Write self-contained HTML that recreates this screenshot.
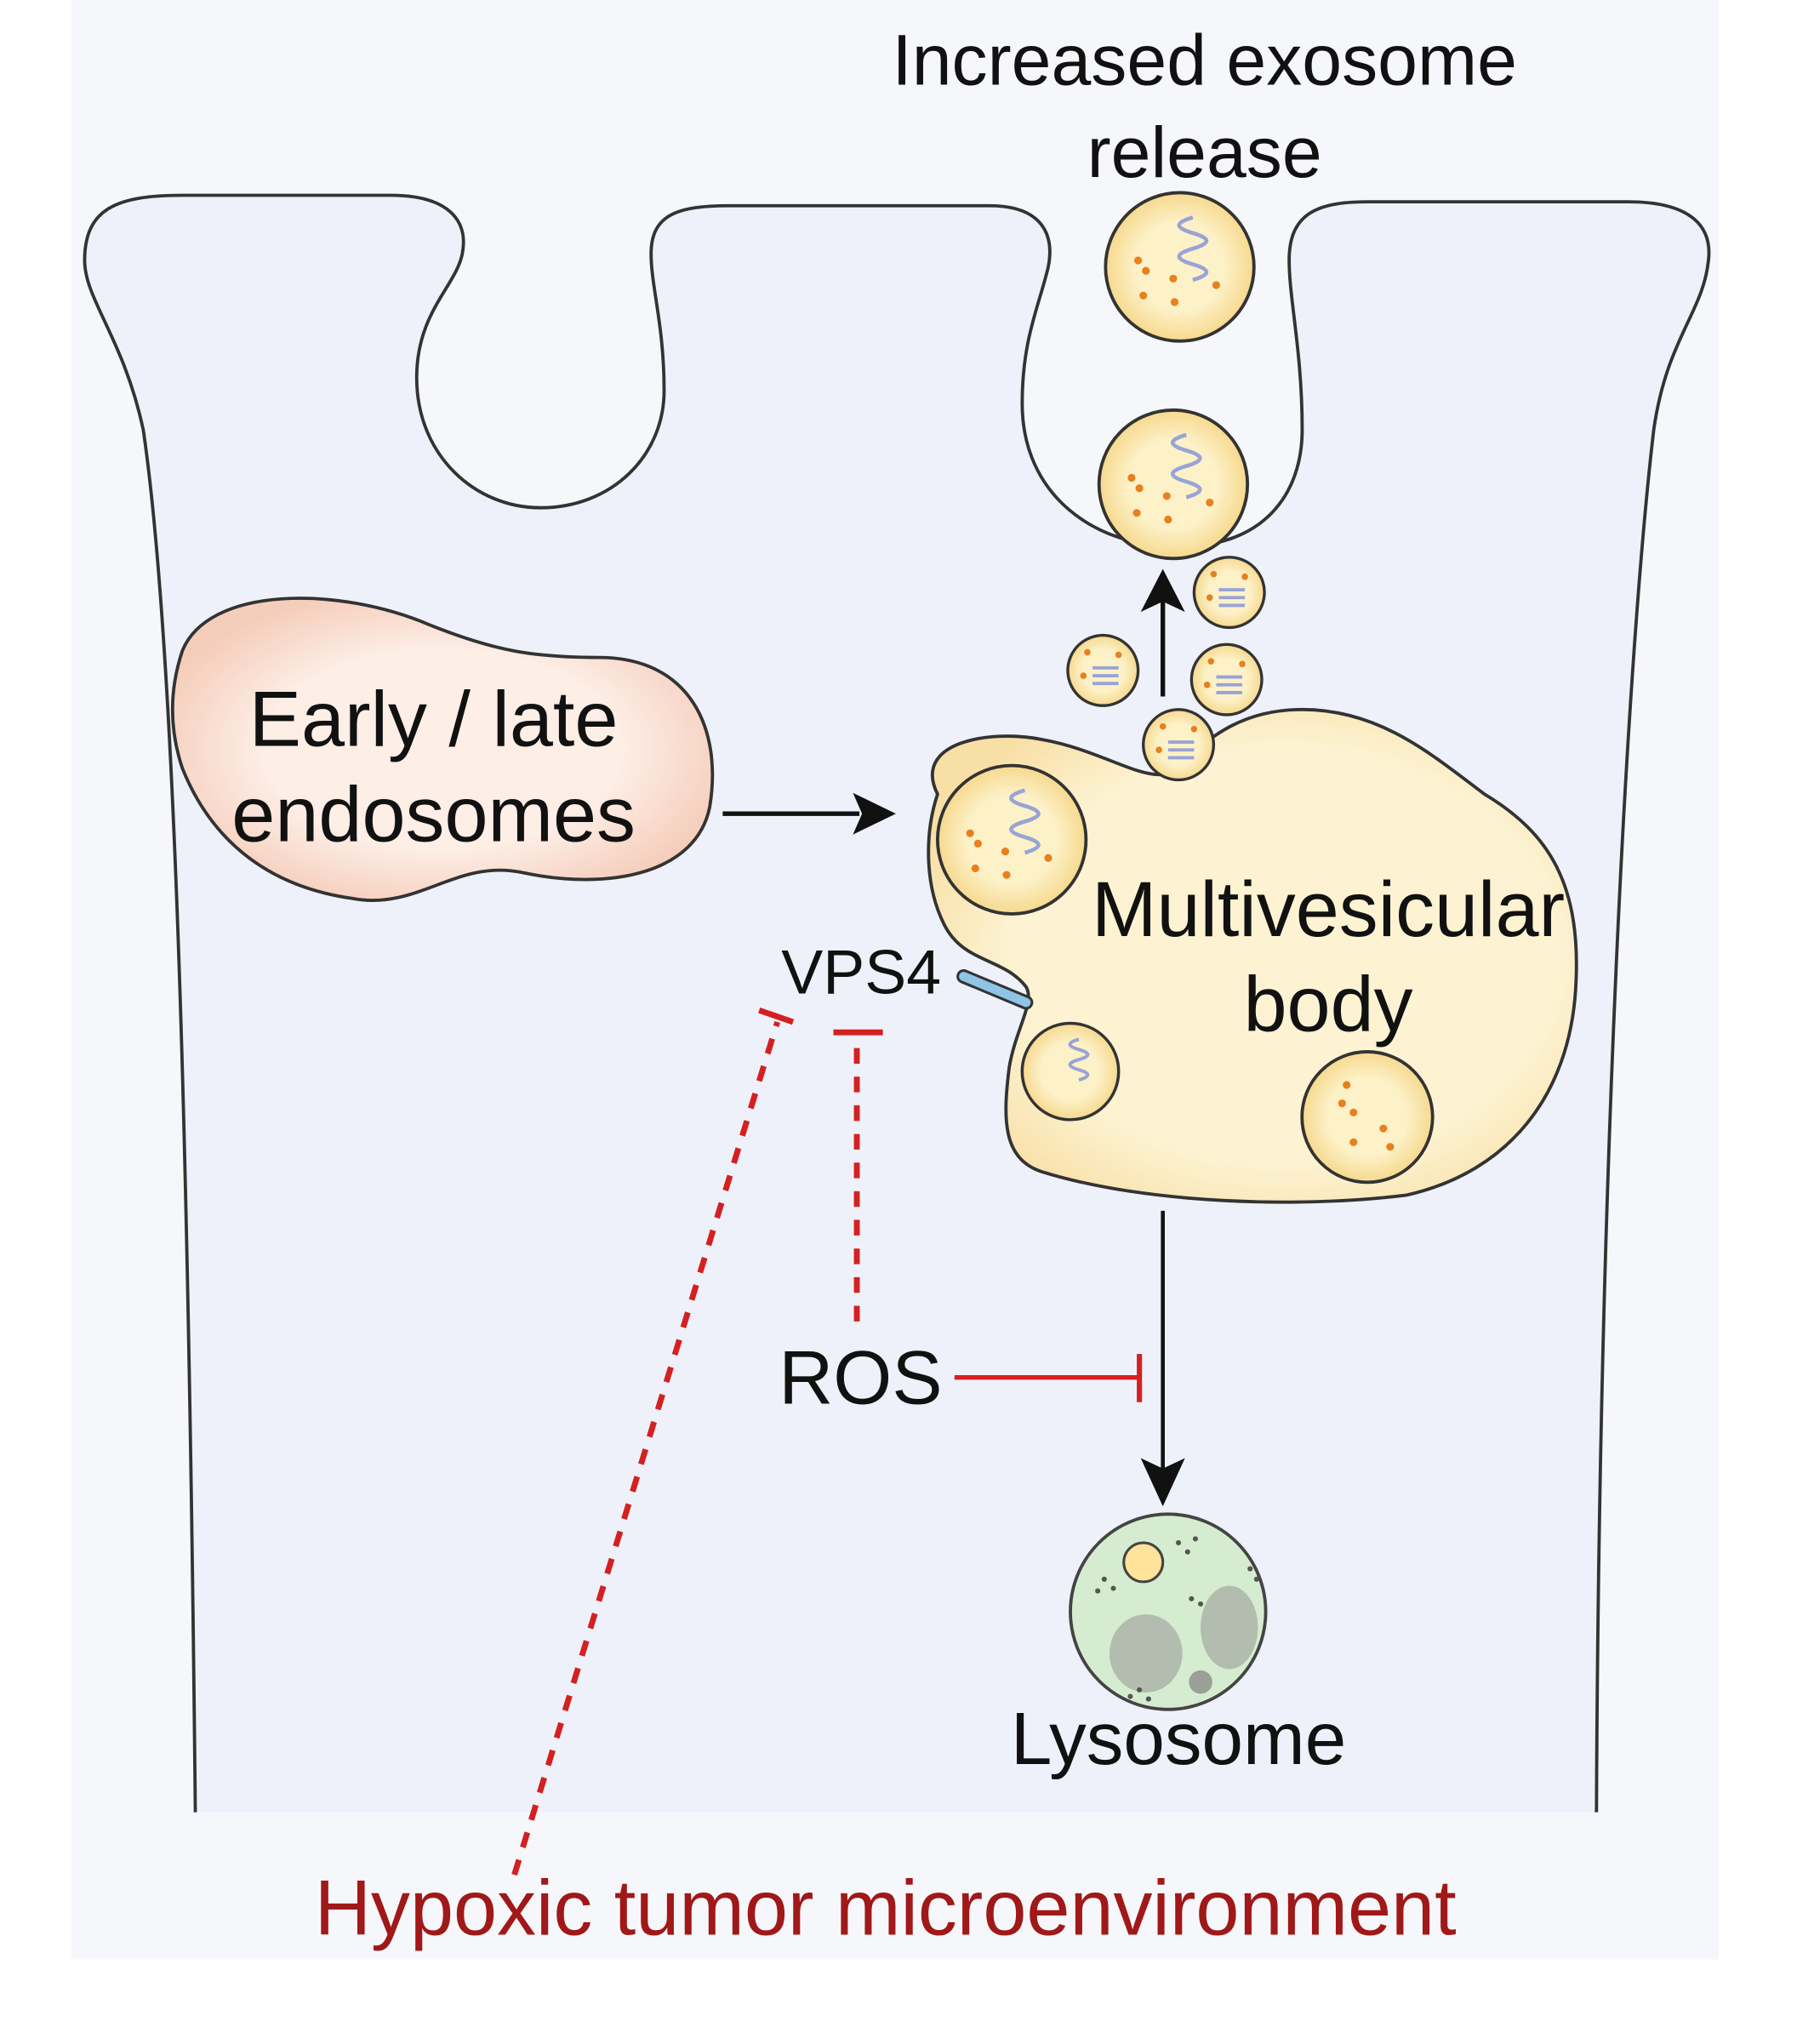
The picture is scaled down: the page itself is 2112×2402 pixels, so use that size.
<!DOCTYPE html>
<html><head><meta charset="utf-8"><style>
html,body{margin:0;padding:0;background:#fff;}
svg{display:block;}
text{font-family:"Liberation Sans",sans-serif;}
</style></head><body>
<svg width="2112" height="2402" viewBox="0 0 1380 1570" preserveAspectRatio="none" xmlns="http://www.w3.org/2000/svg">
<defs>
<radialGradient id="ves" cx="50%" cy="50%" r="50%"><stop offset="0.6" stop-color="#fdf1c8"/><stop offset="1" stop-color="#f6d98e"/></radialGradient>
<radialGradient id="mvb" cx="55%" cy="50%" r="60%"><stop offset="0.7" stop-color="#fdf3d2"/><stop offset="1" stop-color="#f8dfa6"/></radialGradient>
<radialGradient id="endo" cx="50%" cy="50%" r="55%"><stop offset="0.6" stop-color="#fdeee6"/><stop offset="1" stop-color="#f5cdbb"/></radialGradient>
<g id="vbig">
<circle r="57" fill="url(#ves)" stroke="#333" stroke-width="2.5"/>
<path d="M10,-38 c-14,4 -14,8 0,12 c14,4 14,8 0,12 c-14,4 -14,8 0,12 c14,4 14,8 0,12" fill="none" stroke="#98a4d6" stroke-width="3"/>
<g fill="#e8801e"><circle cx="-32" cy="-5" r="3"/><circle cx="-26" cy="3" r="3"/><circle cx="-5" cy="9" r="3"/><circle cx="-28" cy="22" r="3"/><circle cx="-4" cy="27" r="3"/><circle cx="28" cy="14" r="3"/></g>
</g>
<g id="vsm">
<circle r="27" fill="url(#ves)" stroke="#333" stroke-width="2.2"/>
<g stroke="#98a4d6" stroke-width="2.5"><line x1="-8" y1="-2" x2="12" y2="-2"/><line x1="-8" y1="4" x2="12" y2="4"/><line x1="-8" y1="10" x2="12" y2="10"/></g>
<g fill="#e8801e"><circle cx="-12" cy="-14" r="2.5"/><circle cx="12" cy="-12" r="2.5"/><circle cx="-15" cy="4" r="2.5"/></g>
</g>
</defs>
<rect x="55" y="0" width="1265" height="1505" fill="#f6f7fb"/>
<path d="M150,1392 C145,900 135,500 110,330 C95,260 65,230 65,200 C65,160 90,150 140,150 L300,150 C345,150 360,170 355,195 C350,220 320,240 320,290 C320,350 365,390 415,390 C470,390 510,350 510,300 C510,250 500,220 500,195 C500,165 520,158 560,158 L760,158 C800,158 810,180 805,205 C798,235 785,260 785,310 C785,380 840,420 905,420 C970,420 1000,380 1000,330 C1000,270 990,230 990,200 C990,165 1010,155 1050,155 L1250,155 C1300,155 1315,175 1312,200 C1308,240 1280,260 1270,330 C1250,500 1228,900 1226,1392 Z" fill="#eef1f9" stroke="none"/>
<path d="M150,1392 C145,900 135,500 110,330 C95,260 65,230 65,200 C65,160 90,150 140,150 L300,150 C345,150 360,170 355,195 C350,220 320,240 320,290 C320,350 365,390 415,390 C470,390 510,350 510,300 C510,250 500,220 500,195 C500,165 520,158 560,158 L760,158 C800,158 810,180 805,205 C798,235 785,260 785,310 C785,380 840,420 905,420 C970,420 1000,380 1000,330 C1000,270 990,230 990,200 C990,165 1010,155 1050,155 L1250,155 C1300,155 1315,175 1312,200 C1308,240 1280,260 1270,330 C1250,500 1228,900 1226,1392" fill="none" stroke="#333" stroke-width="2.5"/>

<text x="925" y="65" font-size="55" text-anchor="middle" fill="#111">Increased exosome</text>
<text x="925" y="136" font-size="55" text-anchor="middle" fill="#111">release</text>

<use href="#vbig" x="906" y="205"/>
<use href="#vbig" x="901" y="372"/>

<path d="M140,500 C160,450 260,450 330,480 C380,500 410,505 460,505 C530,505 555,560 545,620 C535,670 470,685 400,670 C350,660 320,700 270,690 C200,680 160,640 140,590 C130,560 130,530 140,500 Z" fill="url(#endo)" stroke="#333" stroke-width="2.5"/>
<text x="333" y="573" font-size="60" text-anchor="middle" fill="#111">Early / late</text>
<text x="333" y="646" font-size="60" text-anchor="middle" fill="#111">endosomes</text>
<line x1="555" y1="625" x2="660" y2="625" stroke="#111" stroke-width="3.5"/>
<path d="M688,625 L655,609 L662,625 L655,641 Z" fill="#111"/>

<path d="M720,610 C700,570 760,560 800,568 C840,575 870,595 890,595 C910,595 930,545 1000,545 C1060,545 1100,580 1140,610 C1190,640 1215,680 1210,760 C1205,840 1160,900 1080,918 C1000,928 880,925 800,900 C770,890 770,860 775,820 C780,790 795,770 788,758 C770,735 740,740 725,710 C710,680 710,640 720,610 Z" fill="url(#mvb)" stroke="#333" stroke-width="2.5"/>
<use href="#vbig" x="777" y="645"/>
<g transform="translate(822,823) scale(0.65)"><circle r="57" fill="url(#ves)" stroke="#333" stroke-width="3.5"/><path d="M10,-38 c-14,4 -14,8 0,12 c14,4 14,8 0,12 c-14,4 -14,8 0,12 c14,4 14,8 0,12" fill="none" stroke="#98a4d6" stroke-width="4"/></g>
<g transform="translate(1050,858) scale(0.88)"><circle r="57" fill="url(#ves)" stroke="#333" stroke-width="2.8"/><g fill="#e8801e"><circle cx="-18" cy="-28" r="3.4"/><circle cx="-22" cy="-12" r="3.4"/><circle cx="-12" cy="-4" r="3.4"/><circle cx="14" cy="10" r="3.4"/><circle cx="-12" cy="22" r="3.4"/><circle cx="20" cy="26" r="3.4"/></g></g>
<text x="1020" y="719" font-size="60" text-anchor="middle" fill="#111">Multivesicular</text>
<text x="1020" y="792" font-size="60" text-anchor="middle" fill="#111">body</text>

<use href="#vsm" x="905" y="572"/>
<use href="#vsm" x="847" y="515"/>
<use href="#vsm" x="942" y="522"/>
<use href="#vsm" x="944" y="455"/>
<line x1="893" y1="535" x2="893" y2="460" stroke="#111" stroke-width="3.5"/>
<path d="M893,437 L876,470 L893,462 L910,470 Z" fill="#111"/>

<text x="600" y="763" font-size="48" fill="#111">VPS4</text>
<line x1="740" y1="750" x2="788" y2="770" stroke="#333" stroke-width="11" stroke-linecap="round"/>
<line x1="740" y1="750" x2="788" y2="770" stroke="#8ec5e6" stroke-width="7" stroke-linecap="round"/>

<line x1="395" y1="1440" x2="597" y2="785" stroke="#d42020" stroke-width="4.5" stroke-dasharray="12,10"/>
<line x1="583" y1="776" x2="609" y2="785" stroke="#d42020" stroke-width="4.5"/>
<line x1="658" y1="1015" x2="658" y2="795" stroke="#d42020" stroke-width="4.5" stroke-dasharray="12,10"/>
<line x1="640" y1="793" x2="678" y2="793" stroke="#d42020" stroke-width="4.5"/>

<text x="598" y="1078" font-size="58" fill="#111">ROS</text>
<line x1="733" y1="1058" x2="875" y2="1058" stroke="#d42020" stroke-width="3.5"/>
<line x1="875" y1="1040" x2="875" y2="1077" stroke="#d42020" stroke-width="4"/>

<line x1="893" y1="930" x2="893" y2="1130" stroke="#111" stroke-width="3"/>
<path d="M893,1157 L876,1120 L893,1128 L910,1120 Z" fill="#111"/>

<circle cx="897" cy="1238" r="75" fill="#d6ecd0" stroke="#444" stroke-width="2.5"/>
<circle cx="878" cy="1200" r="15" fill="#fde49a" stroke="#444" stroke-width="2"/>
<ellipse cx="880" cy="1270" rx="28" ry="30" fill="#a9b0a6" opacity="0.8"/>
<ellipse cx="944" cy="1250" rx="22" ry="32" fill="#a9b0a6" opacity="0.8"/>
<circle cx="922" cy="1292" r="9" fill="#9aa097"/>
<g fill="#555"><circle cx="848" cy="1213" r="2"/><circle cx="855" cy="1220" r="2"/><circle cx="843" cy="1222" r="2"/><circle cx="905" cy="1185" r="2"/><circle cx="912" cy="1192" r="2"/><circle cx="918" cy="1182" r="2"/><circle cx="960" cy="1205" r="2"/><circle cx="965" cy="1213" r="2"/><circle cx="915" cy="1228" r="2"/><circle cx="922" cy="1232" r="2"/><circle cx="875" cy="1298" r="2"/><circle cx="882" cy="1305" r="2"/><circle cx="868" cy="1303" r="2"/></g>
<text x="905" y="1355" font-size="57" text-anchor="middle" fill="#111">Lysosome</text>

<text x="680" y="1486" font-size="60" text-anchor="middle" fill="#a01818">Hypoxic tumor microenvironment</text>
</svg>
</body></html>
